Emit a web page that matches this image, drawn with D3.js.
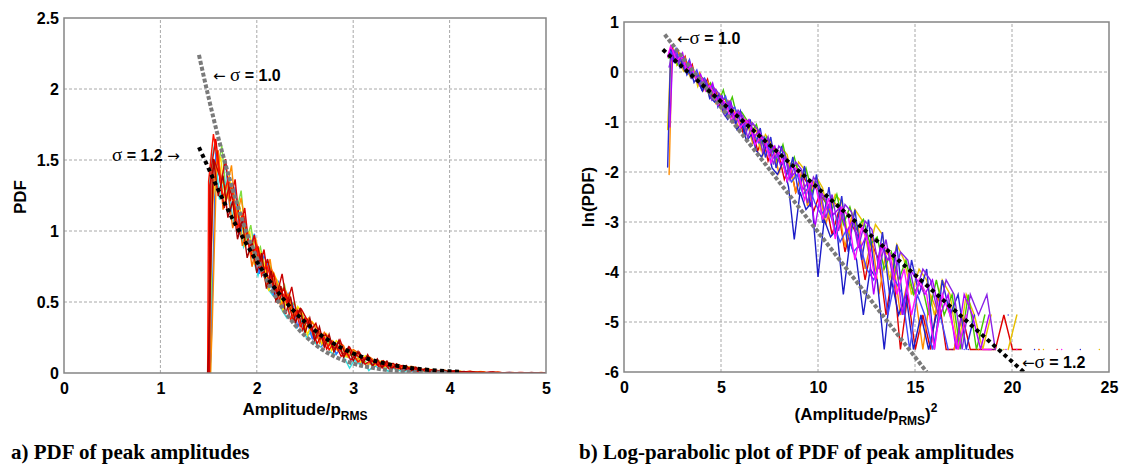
<!DOCTYPE html>
<html lang="en">
<head>
  <meta charset="UTF-8">
  <title>PDF of peak amplitudes</title>
  <script src="https://d3js.org/d3.v7.min.js"></script>
  <style>
    body { margin: 0; background: #fff; }
    svg text { font-family: "Liberation Sans", Arial, sans-serif; font-weight: bold; fill: #000; }
    .caption { font-family: "Liberation Serif", "Times New Roman", serif; font-size: 21px; }
    .grid line { stroke: #a8a8a8; stroke-dasharray: 3,2; }
  </style>
</head>
<body>
  <svg id="chart" width="1122" height="464"></svg>

  <script>
    // amplitude bins (A / p_RMS); first entry of each grid is the empty bin below the cut
    const ampGridA = [1.49, 1.50, 1.55, 1.60, 1.65, 1.70, 1.75, 1.80, 1.85, 1.90, 1.95,
      2.00, 2.05, 2.10, 2.15, 2.20, 2.25, 2.30, 2.35, 2.40, 2.45,
      2.50, 2.55, 2.60, 2.65, 2.70, 2.75, 2.80, 2.85, 2.90, 2.95,
      3.00, 3.05, 3.10, 3.15, 3.20, 3.25, 3.30, 3.35, 3.40, 3.45,
      3.50, 3.55, 3.60, 3.65, 3.70, 3.75, 3.80, 3.85, 3.90, 3.95,
      4.00, 4.05, 4.10, 4.15, 4.20, 4.25, 4.30, 4.35, 4.40, 4.45,
      4.50, 4.55, 4.60, 4.65, 4.70, 4.75, 4.80, 4.85, 4.90, 4.95, 5.00];
    const ampGridB = [1.51, 1.525, 1.575, 1.625, 1.675, 1.725, 1.775, 1.825, 1.875, 1.925, 1.975,
      2.025, 2.075, 2.125, 2.175, 2.225, 2.275, 2.325, 2.375, 2.425, 2.475,
      2.525, 2.575, 2.625, 2.675, 2.725, 2.775, 2.825, 2.875, 2.925, 2.975,
      3.025, 3.075, 3.125, 3.175, 3.225, 3.275, 3.325, 3.375, 3.425, 3.475,
      3.525, 3.575, 3.625, 3.675, 3.725, 3.775, 3.825, 3.875, 3.925, 3.975,
      4.025, 4.075, 4.125, 4.175, 4.225, 4.275, 4.325, 4.375, 4.425, 4.475,
      4.525, 4.575, 4.625, 4.675, 4.725, 4.775, 4.825, 4.875, 4.925, 4.975];
    const ampGridC = [1.50, 1.5125, 1.5625, 1.6125, 1.6625, 1.7125, 1.7625, 1.8125, 1.8625, 1.9125, 1.9625,
      2.0125, 2.0625, 2.1125, 2.1625, 2.2125, 2.2625, 2.3125, 2.3625, 2.4125, 2.4625,
      2.5125, 2.5625, 2.6125, 2.6625, 2.7125, 2.7625, 2.8125, 2.8625, 2.9125, 2.9625,
      3.0125, 3.0625, 3.1125, 3.1625, 3.2125, 3.2625, 3.3125, 3.3625, 3.4125, 3.4625,
      3.5125, 3.5625, 3.6125, 3.6625, 3.7125, 3.7625, 3.8125, 3.8625, 3.9125, 3.9625,
      4.0125, 4.0625, 4.1125, 4.1625, 4.2125, 4.2625, 4.3125, 4.3625, 4.4125, 4.4625,
      4.5125, 4.5625, 4.6125, 4.6625, 4.7125, 4.7625, 4.8125, 4.8625, 4.9125, 4.9625];
    const ampGridD = [1.52, 1.5375, 1.5875, 1.6375, 1.6875, 1.7375, 1.7875, 1.8375, 1.8875, 1.9375, 1.9875,
      2.0375, 2.0875, 2.1375, 2.1875, 2.2375, 2.2875, 2.3375, 2.3875, 2.4375, 2.4875,
      2.5375, 2.5875, 2.6375, 2.6875, 2.7375, 2.7875, 2.8375, 2.8875, 2.9375, 2.9875,
      3.0375, 3.0875, 3.1375, 3.1875, 3.2375, 3.2875, 3.3375, 3.3875, 3.4375, 3.4875,
      3.5375, 3.5875, 3.6375, 3.6875, 3.7375, 3.7875, 3.8375, 3.8875, 3.9375, 3.9875,
      4.0375, 4.0875, 4.1375, 4.1875, 4.2375, 4.2875, 4.3375, 4.3875, 4.4375, 4.4875,
      4.5375, 4.5875, 4.6375, 4.6875, 4.7375, 4.7875, 4.8375, 4.8875, 4.9375, 4.9875];

    // ln(PDF) per measurement run, null = empty bin
    const lnPdfRun1 = [null,
      -1.90, 0.41, 0.22, 0.33, 0.09, 0.19, -0.06, 0.07, -0.21, -0.08,
      -0.35, -0.17, -0.52, -0.33, -0.70, -0.49, -0.88, -0.62, -1.05, -0.78,
      -1.27, -0.95, -1.48, -1.12, -1.71, -1.30, -1.92, -1.48, -2.21, -1.70,
      -2.45, -1.88, -2.70, -2.05, -3.02, -2.30, -3.25, -2.48, -3.60, -2.75,
      -3.76, -2.95, -4.16, -3.20, -4.45, -3.45, -4.86, -3.76, -4.45, -3.94,
      -5.55, -4.16, -4.86, -4.45, -5.55, -4.86, null, -5.55, null, -4.86,
      null,
      null, -5.55, null, null, null, null, -5.55, null, null, null];
    const lnPdfRun2 = [null,
      0.30, 0.52, 0.38, 0.21, 0.31, 0.24, 0.02, 0.11, -0.02, -0.20,
      -0.12, -0.38, -0.27, -0.41, -0.66, -0.55, -0.64, -0.98, -0.81, -1.12,
      -0.95, -1.08, -1.46, -1.30, -1.38, -1.82, -1.55, -1.70, -2.18, -1.85,
      -2.02, -2.56, -2.20, -2.35, -2.95, -2.52, -3.34, -2.71, -2.88, -3.76,
      -3.10, -3.42, -4.16, -3.45, -3.60, -4.45, -3.94, -4.86, -4.16, -4.45,
      -5.55, -4.45, -4.86, -5.55, -4.86, null, -5.55, -5.55, null, null,
      -5.55,
      null, null, null, null, -5.55, null, null, null, null, null];
    const lnPdfRun3 = [null,
      -1.15, 0.28, 0.45, 0.14, 0.25, 0.02, 0.15, -0.11, 0.01, -0.29,
      -0.10, -0.22, -0.50, -0.31, -0.42, -0.78, -0.55, -0.70, -1.02, -0.80,
      -1.20, -0.98, -1.10, -1.55, -1.25, -1.40, -1.88, -1.52, -1.65, -2.20,
      -1.80, -1.95, -2.55, -2.10, -2.32, -2.88, -2.45, -2.60, -3.30, -2.75,
      -2.95, -3.60, -3.05, -3.25, -4.16, -3.45, -3.76, -4.45, -3.94, -4.16,
      -4.86, -4.16, -4.45, -5.55, -4.45, -4.86, -5.55, -4.86, null, -5.55,
      -4.86,
      null, null, -5.55, null, null, null, null, null, -5.55, null];
    const lnPdfRun4 = [null,
      -2.05, 0.44, 0.29, 0.40, 0.12, 0.27, -0.03, 0.10, -0.15, -0.02,
      -0.36, -0.19, -0.30, -0.62, -0.45, -0.80, -0.58, -0.74, -1.12, -0.90,
      -1.05, -1.42, -1.18, -1.66, -1.35, -1.50, -2.02, -1.70, -1.85, -2.42,
      -2.00, -2.68, -2.20, -2.40, -3.05, -2.55, -2.70, -3.50, -2.90, -3.10,
      -3.94, -3.30, -4.45, -3.60, -3.76, -4.86, -4.16, -4.45, -5.55, -4.45,
      -4.86, null, -5.55, -4.86, null, -5.55, null, null, -5.55, null,
      null, null, -5.55, null, null, null, null, null, null, null];
    const lnPdfRun5 = [null,
      0.10, 0.33, 0.42, 0.18, 0.30, 0.05, 0.16, -0.12, 0.00, -0.27,
      -0.14, -0.25, -0.55, -0.35, -0.47, -0.85, -0.60, -0.98, -0.76, -0.88,
      -1.32, -1.02, -1.15, -1.60, -1.30, -1.85, -1.48, -1.62, -2.15, -1.80,
      -1.95, -2.62, -2.10, -2.30, -2.92, -2.45, -3.18, -2.65, -2.80, -3.52,
      -2.98, -3.15, -3.94, -3.35, -4.16, -3.60, -3.76, -4.45, -3.94, -4.16,
      -4.86, -4.16, -4.45, -5.55, -4.45, -4.86, -4.45, -5.55, null, null,
      null, null, null, null, null, null, null, null, null, null];
    const lnPdfRun6 = [null,
      0.36, 0.50, 0.28, 0.41, 0.19, 0.31, 0.02, 0.15, -0.16, -0.03,
      -0.30, -0.14, -0.48, -0.36, -0.70, -0.52, -0.66, -1.00, -0.82, -1.20,
      -0.98, -1.14, -1.58, -1.30, -1.78, -1.50, -1.65, -2.15, -1.85, -2.40,
      -2.05, -2.22, -2.80, -2.45, -2.60, -3.25, -2.80, -3.60, -3.05, -3.30,
      -4.16, -3.45, -3.76, -4.86, -3.94, -5.55, -4.45, -5.55, -4.86, -5.55,
      -4.45, -5.55, -5.55, -4.86, -5.55, -5.55, -5.55, -5.55, -4.86, -5.55,
      -5.55, null, -5.55, null, -5.55, null, null, null, null, null];
    const lnPdfRun7 = [null,
      0.35, 0.48, 0.20, 0.31, 0.22, 0.05, 0.12, -0.12, -0.04, -0.22,
      -0.38, -0.20, -0.52, -0.60, -0.44, -0.82, -0.95, -0.78, -1.15, -1.02,
      -1.38, -1.25, -1.58, -1.70, -1.45, -1.92, -2.05, -1.80, -2.30, -3.35,
      -2.40, -2.75, -2.60, -4.10, -2.95, -3.30, -3.15, -4.45, -3.40, -3.76,
      -4.86, -3.94, -4.16, -5.55, -4.16, -4.86, -4.45, -5.55, -4.86, -5.55,
      -4.86, null, -5.55, null, -5.55, null, null, -5.55, null, null,
      null, null, null, null, null, null, null, null, null, null];
    const lnPdfRun8 = [null,
      0.28, 0.40, 0.33, 0.15, 0.27, 0.18, -0.02, 0.10, -0.08, -0.15,
      -0.12, -0.38, -0.22, -0.45, -0.58, -0.36, -0.72, -0.50, -0.88, -0.80,
      -0.95, -1.20, -1.05, -1.42, -1.30, -1.55, -1.78, -1.45, -1.95, -1.70,
      -2.15, -1.92, -2.40, -2.20, -2.55, -2.85, -2.45, -3.05, -2.70, -3.15,
      -2.95, -3.45, -3.30, -3.94, -3.60, -4.16, -3.76, -4.45, -4.16, -4.86,
      -4.16, -4.86, -4.45, -5.55, -4.45, -5.55, -4.86, null, -5.55, null,
      null, null, null, null, null, null, null, null, null, null];
    const lnPdfRun9 = [null,
      -1.10, 0.45, 0.30, 0.26, 0.38, 0.08, 0.21, 0.02, -0.18, -0.05,
      -0.28, -0.40, -0.22, -0.55, -0.48, -0.70, -0.58, -0.90, -0.82, -1.05,
      -0.95, -1.30, -1.18, -1.40, -1.62, -1.48, -1.85, -1.70, -2.10, -1.95,
      -2.35, -2.18, -3.10, -2.40, -2.62, -2.85, -2.70, -3.20, -2.95, -3.55,
      -3.25, -4.45, -3.45, -3.76, -3.60, -4.86, -3.94, -4.16, -4.45, -4.16,
      -4.86, -4.45, -5.55, -4.45, -4.86, -5.55, -4.86, null, -5.55, null,
      null, null, null, null, null, null, null, null, null, null];
    const lnPdfRun10 = [null,
      0.42, 0.35, 0.47, 0.20, 0.28, 0.12, 0.25, -0.08, 0.04, -0.20,
      -0.12, -0.35, -0.28, -0.50, -0.62, -0.48, -0.80, -0.70, -0.92, -1.10,
      -1.02, -1.25, -1.42, -1.30, -1.55, -1.75, -1.62, -1.95, -2.20, -2.05,
      -2.45, -2.30, -2.62, -2.85, -2.70, -3.05, -3.40, -3.15, -3.60, -3.45,
      -3.94, -4.16, -3.76, -4.86, -4.16, -4.45, -5.55, -4.45, -4.86, -5.55,
      -4.86, -5.55, null, -5.55, null, null, -5.55, null, null, null,
      null, null, null, null, null, null, null, null, null, null];

    // fitted curves
    const sigma10Amp = [1.4, 1.5, 1.6, 1.7, 1.8, 1.9, 2.0, 2.2, 2.4, 2.6, 2.8, 3.0, 3.2, 3.4, 3.6, 3.8, 4.0];
    const sigma10Pdf = [2.24, 1.94, 1.66, 1.41, 1.18, 0.98, 0.81, 0.53, 0.335, 0.203, 0.118, 0.066, 0.036, 0.018, 0.009, 0.004, 0.002];
    const sigma12Amp = [1.4, 1.5, 1.6, 1.7, 1.8, 1.9, 2.0, 2.2, 2.4, 2.6, 2.8, 3.0, 3.2, 3.4, 3.6, 3.8, 4.0, 4.1];
    const sigma12Pdf = [1.59, 1.44, 1.29, 1.15, 1.02, 0.90, 0.785, 0.586, 0.426, 0.301, 0.207, 0.138, 0.090, 0.057, 0.035, 0.021, 0.012, 0.009];
    const sigma10SqAmp = [2.1, 15.6];
    const sigma10LnPdf = [0.75, -6.0];
    const sigma12SqAmp = [2.0, 20.6];
    const sigma12LnPdf = [0.45, -6.0];

    const ticksA_x = [0, 1, 2, 3, 4, 5];
    const ticksA_y = [0, 0.5, 1, 1.5, 2, 2.5];
    const ticksB_x = [0, 5, 10, 15, 20, 25];
    const ticksB_y = [1, 0, -1, -2, -3, -4, -5, -6];

    const svg = d3.select("#chart");

    const xA = d3.scaleLinear().domain([0, 5]).range([64, 546]);
    const yA = d3.scaleLinear().domain([0, 2.5]).range([373, 18]);
    const xB = d3.scaleLinear().domain([0, 25]).range([624, 1109]);
    const yB = d3.scaleLinear().domain([-6, 1]).range([372, 22]);

    const runs = [
      { grid: ampGridA, values: lnPdfRun1, colA: "#a80000", colB: "#2b2bd6" },
      { grid: ampGridA, values: lnPdfRun2, colA: "#ff1400", colB: "#ff10ff" },
      { grid: ampGridA, values: lnPdfRun3, colA: "#ff6a00", colB: "#e8c000" },
      { grid: ampGridB, values: lnPdfRun4, colA: "#2a72ff", colB: "#ff8c00" },
      { grid: ampGridB, values: lnPdfRun5, colA: "#ffe000", colB: "#8a22e6" },
      { grid: ampGridB, values: lnPdfRun6, colA: "#e00000", colB: "#e00000" },
      { grid: ampGridC, values: lnPdfRun7, colA: "#30e0e0", colB: "#1c1cc8" },
      { grid: ampGridC, values: lnPdfRun8, colA: "#c80000", colB: "#44c800" },
      { grid: ampGridD, values: lnPdfRun9, colA: "#ff8c00", colB: "#b000ff" },
      { grid: ampGridD, values: lnPdfRun10, colA: "#80dd40", colB: "#4646ff" }
    ];
    const orderA = [9, 6, 3, 4, 8, 2, 5, 7, 1, 0];
    const orderB = [5, 3, 2, 7, 0, 6, 9, 8, 4, 1];

    function panel(x, y, xt, yt, id) {
      const [x0, x1] = x.range();
      const [y0, y1] = y.range();
      const g = svg.append("g");

      g.append("g").attr("class", "grid")
        .selectAll("line").data(xt.slice(1, -1)).join("line")
        .attr("x1", d => x(d)).attr("x2", d => x(d)).attr("y1", y0).attr("y2", y1);
      g.append("g").attr("class", "grid")
        .selectAll("line").data(yt.filter(d => y(d) > y1 + 1 && y(d) < y0 - 1)).join("line")
        .attr("x1", x0).attr("x2", x1).attr("y1", d => y(d)).attr("y2", d => y(d));

      svg.append("clipPath").attr("id", id)
        .append("rect").attr("x", x0).attr("y", y1).attr("width", x1 - x0).attr("height", y0 - y1);

      const xAxis = g.append("g").attr("transform", `translate(0,${y0})`)
        .call(d3.axisBottom(x).tickValues(xt).tickSize(0).tickPadding(10).tickFormat(d => String(d)));
      const yAxis = g.append("g").attr("transform", `translate(${x0},0)`)
        .call(d3.axisLeft(y).tickValues(yt).tickSize(0).tickPadding(5).tickFormat(d => String(d)));
      [xAxis, yAxis].forEach(a => {
        a.select(".domain").remove();
        a.selectAll("text").style("font-size", "16px").style("font-family", null);
      });

      const plot = g.append("g").attr("clip-path", `url(#${id})`);
      return { g, plot, frame: () => g.append("rect")
        .attr("x", x0).attr("y", y1).attr("width", x1 - x0).attr("height", y0 - y1)
        .attr("fill", "none").attr("stroke", "#858585").attr("stroke-width", 1.5) };
    }

    // ---- panel a: PDF vs amplitude
    const pa = panel(xA, yA, ticksA_x, ticksA_y, "clipA");
    const lineA = d3.line().x(d => xA(d[0])).y(d => yA(d[1]));
    orderA.forEach(i => {
      const r = runs[i];
      const pts = r.grid.map((a, k) => [a, r.values[k] == null ? 0 : Math.exp(r.values[k])]);
      pa.plot.append("path").attr("d", lineA(pts))
        .attr("fill", "none").attr("stroke", r.colA).attr("stroke-width", 1.4);
    });
    const smoothA = d3.line().x(d => xA(d[0])).y(d => yA(d[1])).curve(d3.curveMonotoneX);
    pa.plot.append("path").attr("d", smoothA(sigma10Amp.map((a, k) => [a, sigma10Pdf[k]])))
      .attr("fill", "none").attr("stroke", "#7a7a7a").attr("stroke-width", 4).attr("stroke-dasharray", "4,2");
    pa.plot.append("path").attr("d", smoothA(sigma12Amp.map((a, k) => [a, sigma12Pdf[k]])))
      .attr("fill", "none").attr("stroke", "#000").attr("stroke-width", 4).attr("stroke-dasharray", "4,3.5");
    pa.frame();

    // ---- panel b: ln(PDF) vs amplitude^2
    const pb = panel(xB, yB, ticksB_x, ticksB_y, "clipB");
    const lineB = d3.line().defined(d => d[1] != null).x(d => xB(d[0])).y(d => yB(d[1]));
    orderB.forEach(i => {
      const r = runs[i];
      const pts = r.grid.map((a, k) => [a * a, r.values[k]]);
      pb.plot.append("path").attr("d", lineB(pts))
        .attr("fill", "none").attr("stroke", r.colB).attr("stroke-width", 1.4).attr("stroke-linecap", "round");
    });
    const straight = d3.line().x(d => xB(d[0])).y(d => yB(d[1]));
    pb.plot.append("path").attr("d", straight(sigma10SqAmp.map((a, k) => [a, sigma10LnPdf[k]])))
      .attr("fill", "none").attr("stroke", "#7a7a7a").attr("stroke-width", 4).attr("stroke-dasharray", "4,2");
    pb.plot.append("path").attr("d", straight(sigma12SqAmp.map((a, k) => [a, sigma12LnPdf[k]])))
      .attr("fill", "none").attr("stroke", "#000").attr("stroke-width", 4).attr("stroke-dasharray", "4,3.5");
    pb.frame();

    // ---- annotations
    function sigmaNote(x, y, parts) {
      const t = svg.append("text").attr("x", x).attr("y", y).style("font-size", "16px");
      parts.forEach(p => {
        const s = t.append("tspan").text(p.t);
        if (p.serif) s.style("font-family", "'Liberation Serif', serif").style("font-weight", "normal").style("font-size", "19px");
        if (p.arrow) s.style("font-family", "'DejaVu Sans', sans-serif").style("font-weight", "normal").style("font-size", "15px");
      });
    }
    sigmaNote(213, 81, [{ t: "\u2190", arrow: true }, { t: " " }, { t: "\u03c3", serif: true }, { t: " = 1.0" }]);
    sigmaNote(112, 161, [{ t: "\u03c3", serif: true }, { t: " = 1.2 " }, { t: "\u2192", arrow: true }]);
    sigmaNote(677, 44, [{ t: "\u2190", arrow: true }, { t: "\u03c3", serif: true }, { t: " = 1.0" }]);
    sigmaNote(1022, 368, [{ t: "\u2190", arrow: true }, { t: "\u03c3", serif: true }, { t: " = 1.2" }]);

    // ---- axis titles
    const xtA = svg.append("text").attr("x", 305).attr("y", 415).attr("text-anchor", "middle").style("font-size", "17px");
    xtA.append("tspan").text("Amplitude/p");
    xtA.append("tspan").attr("dy", 5).style("font-size", "12px").text("RMS");

    const xtB = svg.append("text").attr("x", 866).attr("y", 420).attr("text-anchor", "middle").style("font-size", "17px");
    xtB.append("tspan").text("(Amplitude/p");
    xtB.append("tspan").attr("dy", 5).style("font-size", "12px").text("RMS");
    xtB.append("tspan").attr("dy", -5).text(")");
    xtB.append("tspan").attr("dy", -8).style("font-size", "12px").text("2");

    svg.append("text").attr("transform", "translate(26,197) rotate(-90)")
      .attr("text-anchor", "middle").style("font-size", "17px").text("PDF");
    svg.append("text").attr("transform", "translate(594,197) rotate(-90)")
      .attr("text-anchor", "middle").style("font-size", "17px").text("ln(PDF)");

    // ---- captions
    svg.append("text").attr("class", "caption").attr("x", 11).attr("y", 459).text("a) PDF of peak amplitudes");
    svg.append("text").attr("class", "caption").attr("x", 579).attr("y", 459).text("b) Log-parabolic plot of PDF of peak amplitudes");
  </script>
</body>
</html>
